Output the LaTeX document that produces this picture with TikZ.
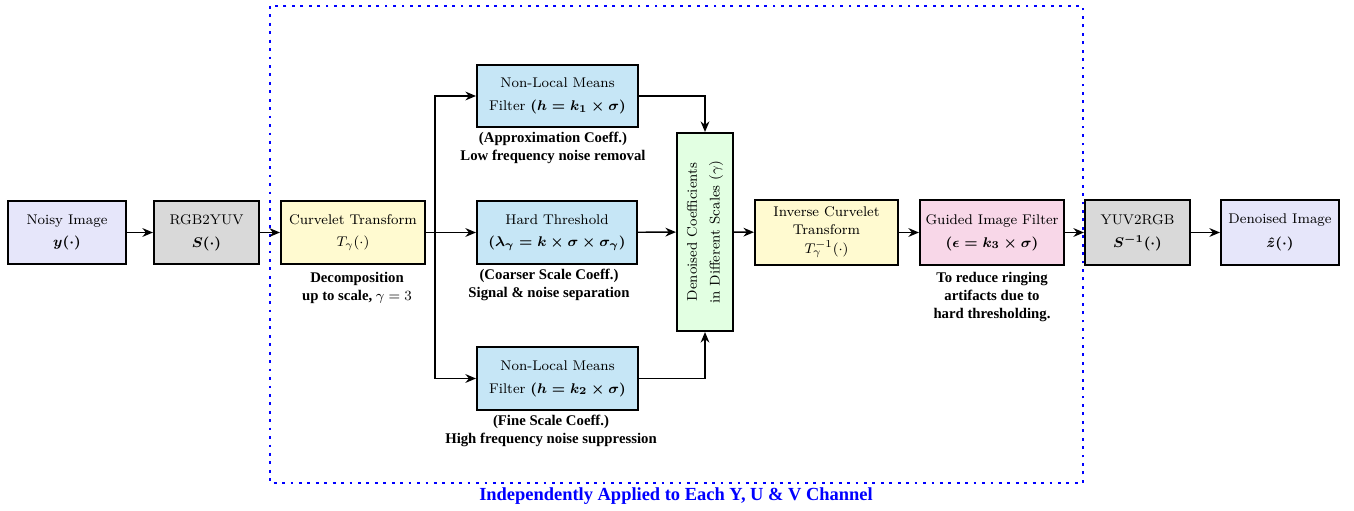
\documentclass[tikz,border=0pt]{standalone}
\usepackage{amsmath}
\usepackage{fontspec}
\newfontfamily\notefont{Liberation Serif}
\usetikzlibrary{arrows.meta,positioning}

\definecolor{inputfill}{RGB}{230,230,250}
\definecolor{convfill}{RGB}{217,217,217}
\definecolor{curvfill}{RGB}{255,250,208}
\definecolor{filtfill}{RGB}{198,230,246}
\definecolor{coeffill}{RGB}{226,255,226}
\definecolor{guidfill}{RGB}{248,215,232}

\tikzset{
    block/.style={draw, very thick, align=center, inner sep=2pt,
        font=\fontsize{8}{13}\selectfont},
    note/.style={align=center, font=\notefont\bfseries\fontsize{8.4}{10.5}\selectfont},
    link/.style={thick, -{Stealth[length=6pt,width=5pt]}}
}

\begin{document}
\begin{tikzpicture}[x=0.02cm, y=-0.02cm]
    \useasboundingbox (0,0) rectangle (1354,510);

    % frame for the per-channel part
    \draw[blue, line width=1.6pt, dash pattern=on 1.6pt off 3.2pt] (270,6) rectangle (1083,483);
    \node[note, text=blue, font=\notefont\bfseries\fontsize{10.5}{12}\selectfont] (chan) at (676,496)
        {Independently Applied to Each Y, U \& V Channel};

    \node[block, fill=inputfill, minimum width=2.36cm, minimum height=1.26cm] (noisy) at (67,232.5)
        {Noisy Image\\$\boldsymbol{y(\cdot)}$};
    \node[block, fill=convfill, minimum width=2.1cm, minimum height=1.26cm] (rgb) at (206.5,232.5)
        {RGB2YUV\\$\boldsymbol{S(\cdot)}$};
    \node[block, fill=curvfill, minimum width=2.88cm, minimum height=1.26cm] (curv) at (353,232.5)
        {Curvelet Transform\\$T_{\gamma}(\cdot)$};

    \node[block, fill=filtfill, minimum width=3.22cm, minimum height=1.24cm] (nlmA) at (557.5,96)
        {Non-Local Means\\Filter $\boldsymbol{(h = k_1 \times \sigma)}$};
    \node[block, fill=filtfill, minimum width=3.2cm, minimum height=1.26cm] (hard) at (557,232.5)
        {Hard Threshold\\$\boldsymbol{(\lambda_\gamma = k \times \sigma \times \sigma_\gamma)}$};
    \node[block, fill=filtfill, minimum width=3.22cm, minimum height=1.26cm] (nlmB) at (557.5,378.5)
        {Non-Local Means\\Filter $\boldsymbol{(h = k_2 \times \sigma)}$};

    \node[block, fill=coeffill, rotate=90, minimum width=3.96cm, minimum height=1.12cm] (coef) at (705,232)
        {Denoised Coefficients\\in Different Scales ($\gamma$)};

    \node[block, fill=curvfill, minimum width=2.86cm, minimum height=1.3cm, inner sep=1pt,
        font=\fontsize{8}{10}\selectfont] (icurv) at (826.5,232.5)
        {Inverse Curvelet\\Transform\\[1pt]$T_{\gamma}^{-1}(\cdot)$};
    \node[block, fill=guidfill, minimum width=2.88cm, minimum height=1.3cm] (guided) at (992,232.5)
        {Guided Image Filter\\$\boldsymbol{(\epsilon = k_3 \times \sigma)}$};
    \node[block, fill=convfill, minimum width=2.1cm, minimum height=1.3cm] (yuv) at (1137.5,232.5)
        {YUV2RGB\\$\boldsymbol{S^{-1}(\cdot)}$};
    \node[block, fill=inputfill, minimum width=2.36cm, minimum height=1.3cm] (denoised) at (1280,232.5)
        {Denoised Image\\[1pt]$\boldsymbol{\hat{z}(\cdot)}$};

    % notes
    \node[note] (decomp) at (357,288) {Decomposition\\up to scale, $\gamma = 3$};
    \node[note] (approx) at (553,148) {(Approximation Coeff.)\\Low frequency noise removal};
    \node[note] (coarse) at (549,285) {(Coarser Scale Coeff.)\\Signal \& noise separation};
    \node[note] (fine) at (551,431) {(Fine Scale Coeff.)\\High frequency noise suppression};
    \node[note] (ring) at (992,297) {To reduce ringing\\artifacts due to\\hard thresholding.};

    % connectors
    \coordinate (split) at (435,232.5);
    \draw[link] (noisy) -- (rgb);
    \draw[link] (rgb) -- (curv);
    \draw[link] (curv) -- (hard);
    \draw[link] (split) |- (nlmA);
    \draw[link] (split) |- (nlmB);
    \draw[link] (nlmA) -| (coef);
    \draw[link] (nlmB) -| (coef);
    \draw[link] (hard) -- (coef);
    \draw[link] (coef) -- (icurv);
    \draw[link] (icurv) -- (guided);
    \draw[link] (guided) -- (yuv);
    \draw[link] (yuv) -- (denoised);
\end{tikzpicture}
\end{document}
